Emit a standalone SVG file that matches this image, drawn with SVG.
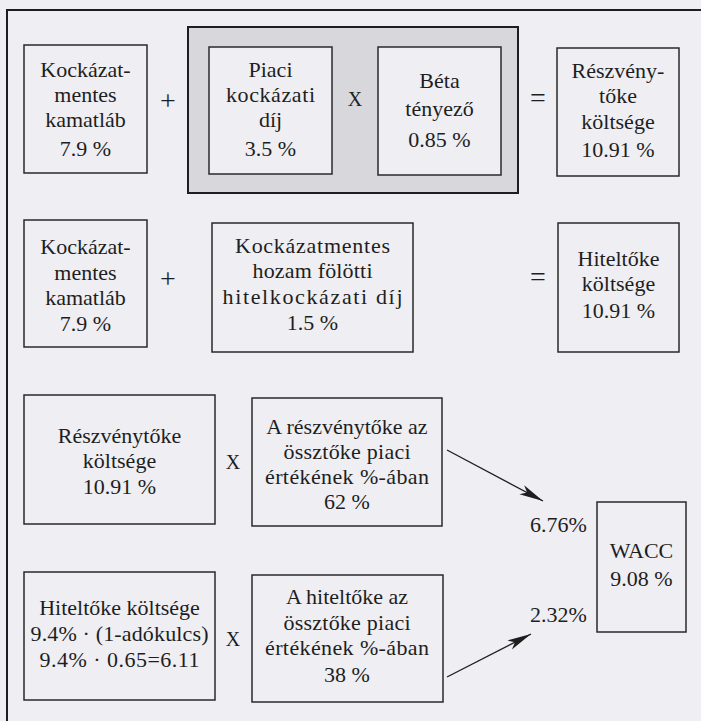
<svg xmlns="http://www.w3.org/2000/svg" width="701" height="721" viewBox="0 0 701 721">
  <style>
    .box { fill: #eeeef3; stroke: #2a2a2a; stroke-width: 1.5; }
    .shade { fill: #d8d8dc; stroke: #1e1e1e; stroke-width: 2; }
    .frame { fill: none; stroke: #1e1e1e; stroke-width: 2; }
    .t { font-size: 22px; text-anchor: middle; }
    .op { font-size: 28px; text-anchor: middle; }
    .mul { font-size: 20px; text-anchor: middle; }
    .conn { stroke: #1e1e1e; stroke-width: 1.3; fill: none; marker-end: url(#arrow); }
  </style>
  <defs>
    <marker id="arrow" markerWidth="26" markerHeight="12" refX="24" refY="6" orient="auto" markerUnits="userSpaceOnUse">
      <path d="M0,1 L24,6 L0,11 L6,6 Z" fill="#1e1e1e"/>
    </marker>
  </defs>

  <!-- page -->
  <rect x="0" y="0" width="701" height="721" fill="#eeeef3"/>
  <path class="frame" d="M7,721 L7,10 L701,10"/>

  <g font-family="'Liberation Serif', Tinos, 'DejaVu Serif', 'Times New Roman', serif" fill="#1e1e1e">
  <!-- row 1: cost of equity -->
  <g id="riskfree1">
    <rect class="box" x="24" y="45" width="123" height="128"/>
    <text class="t" x="85.5" y="77">Kockázat-</text>
    <text class="t" x="85.5" y="102">mentes</text>
    <text class="t" x="85.5" y="127">kamatláb</text>
    <text class="t" x="85.5" y="156">7.9 %</text>
  </g>
  <text class="op" x="168" y="110">+</text>
  <g id="premium">
    <rect class="shade" x="188" y="27" width="330" height="166"/>
    <rect class="box" x="209" y="47" width="123" height="127"/>
    <text class="t" x="270.5" y="77">Piaci</text>
    <text class="t" x="270.5" y="102" textLength="89" lengthAdjust="spacing">kockázati</text>
    <text class="t" x="270.5" y="127">díj</text>
    <text class="t" x="270.5" y="156">3.5 %</text>
  </g>
  <text class="mul" x="355" y="106">X</text>
  <g id="beta">
    <rect class="box" x="378" y="47" width="123" height="128"/>
    <text class="t" x="439.5" y="88">Béta</text>
    <text class="t" x="439.5" y="116">tényező</text>
    <text class="t" x="439.5" y="147">0.85 %</text>
  </g>
  <text class="op" x="538" y="107">=</text>
  <g id="equitycost">
    <rect class="box" x="557" y="48" width="122" height="128"/>
    <text class="t" x="618" y="78">Részvény-</text>
    <text class="t" x="618" y="103">tőke</text>
    <text class="t" x="618" y="129">költsége</text>
    <text class="t" x="618" y="157">10.91 %</text>
  </g>

  <!-- row 2: cost of debt -->
  <g id="riskfree2">
    <rect class="box" x="24" y="220" width="123" height="127"/>
    <text class="t" x="85.5" y="254">Kockázat-</text>
    <text class="t" x="85.5" y="280">mentes</text>
    <text class="t" x="85.5" y="305">kamatláb</text>
    <text class="t" x="85.5" y="331">7.9 %</text>
  </g>
  <text class="op" x="168" y="288">+</text>
  <g id="creditspread">
    <rect class="box" x="212" y="223" width="201" height="129"/>
    <text class="t" x="312.5" y="253" textLength="155" lengthAdjust="spacing">Kockázatmentes</text>
    <text class="t" x="312.5" y="278" textLength="120" lengthAdjust="spacing">hozam fölötti</text>
    <text class="t" x="312.5" y="304" textLength="180" lengthAdjust="spacing">hitelkockázati díj</text>
    <text class="t" x="312.5" y="330">1.5 %</text>
  </g>
  <text class="op" x="538" y="286">=</text>
  <g id="debtcost">
    <rect class="box" x="558" y="223" width="121" height="129"/>
    <text class="t" x="618.5" y="266">Hiteltőke</text>
    <text class="t" x="618.5" y="291">költsége</text>
    <text class="t" x="618.5" y="318">10.91 %</text>
  </g>

  <!-- row 3: weighted equity -->
  <g id="equity">
    <rect class="box" x="24" y="395" width="191" height="129"/>
    <text class="t" x="119.5" y="443">Részvénytőke</text>
    <text class="t" x="119.5" y="468">költsége</text>
    <text class="t" x="119.5" y="494">10.91 %</text>
  </g>
  <text class="mul" x="233" y="469">X</text>
  <g id="equityshare">
    <rect class="box" x="252" y="398" width="190" height="128"/>
    <text class="t" x="347" y="434">A részvénytőke az</text>
    <text class="t" x="347" y="459" textLength="127" lengthAdjust="spacing">össztőke piaci</text>
    <text class="t" x="347" y="484" textLength="164" lengthAdjust="spacing">értékének %-ában</text>
    <text class="t" x="347" y="509">62 %</text>
  </g>

  <!-- row 4: weighted debt -->
  <g id="debt">
    <rect class="box" x="24" y="572" width="191" height="128"/>
    <text class="t" x="119.5" y="615">Hiteltőke költsége</text>
    <text class="t" x="119.5" y="641" textLength="178" lengthAdjust="spacing">9.4% · (1-adókulcs)</text>
    <text class="t" x="119.5" y="667" textLength="160" lengthAdjust="spacing">9.4% · 0.65=6.11</text>
  </g>
  <text class="mul" x="233" y="646">X</text>
  <g id="debtshare">
    <rect class="box" x="252" y="575" width="191" height="127"/>
    <text class="t" x="347" y="604">A hiteltőke az</text>
    <text class="t" x="347" y="630" textLength="127" lengthAdjust="spacing">össztőke piaci</text>
    <text class="t" x="347" y="655" textLength="164" lengthAdjust="spacing">értékének %-ában</text>
    <text class="t" x="347" y="682">38 %</text>
  </g>

  <!-- result -->
  <g id="wacc">
    <rect class="box" x="597" y="502" width="89" height="130"/>
    <text class="t" x="641.5" y="558">WACC</text>
    <text class="t" x="641.5" y="586">9.08 %</text>
  </g>
  <text class="t" x="558.5" y="532">6.76%</text>
  <text class="t" x="558.5" y="622">2.32%</text>
  </g>

  <!-- connectors -->
  <g id="connectors">
    <path class="conn" d="M447,450 L543,501"/>
    <path class="conn" d="M447,677 L531,634"/>
  </g>
</svg>
